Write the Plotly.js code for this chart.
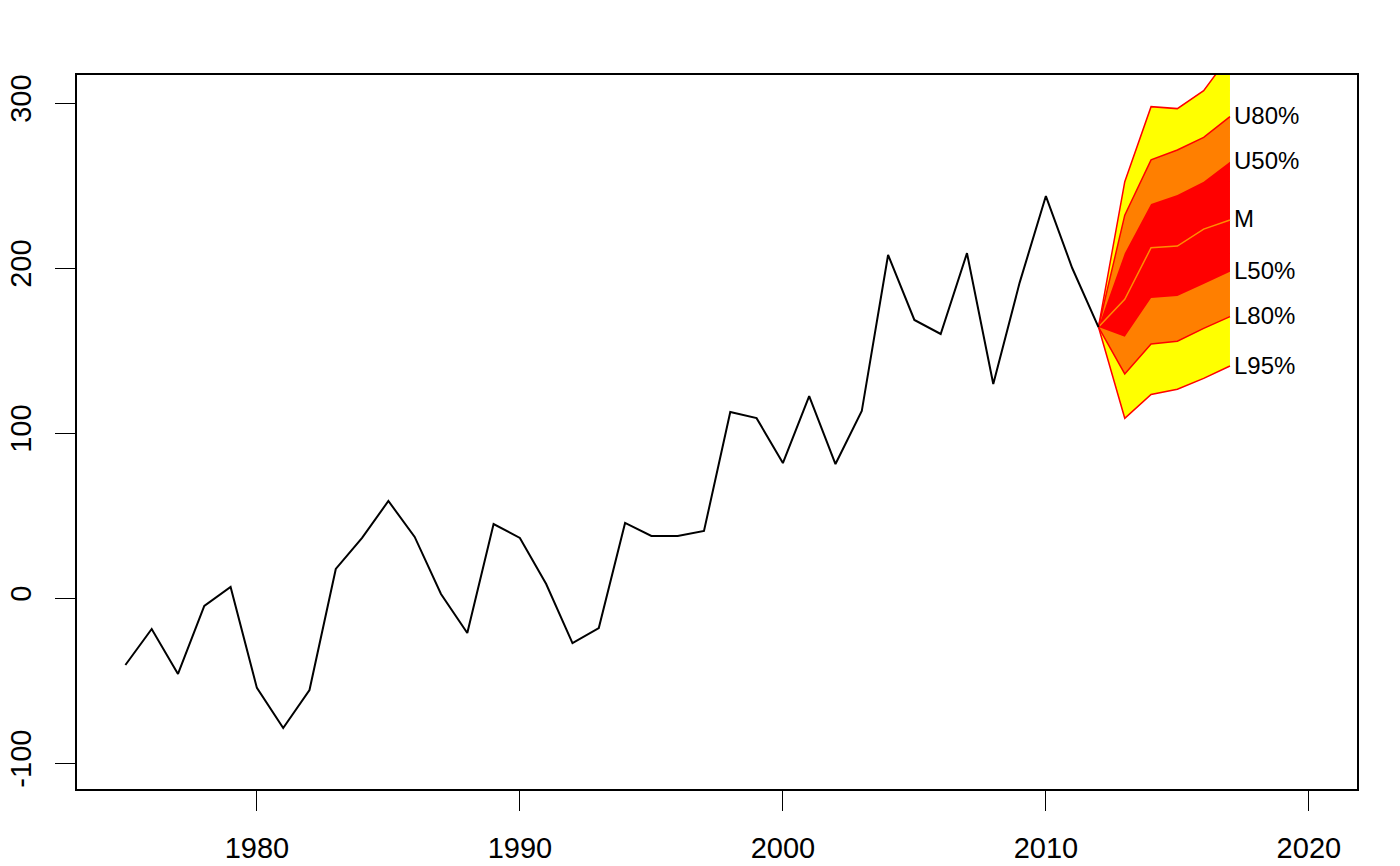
<!DOCTYPE html>
<html>
<head>
<meta charset="utf-8">
<script src="https://cdn.plot.ly/plotly-3.0.1.min.js"></script>
<style>
html,body{margin:0;padding:0;background:#fff;}
#chart{width:1400px;height:866px;}
</style>
</head>
<body>
<div id="chart"></div>
<script>
// Observed series
var years = [1975,1976,1977,1978,1979,1980,1981,1982,1983,1984,1985,1986,1987,1988,1989,1990,1991,1992,1993,1994,1995,1996,1997,1998,1999,2000,2001,2002,2003,2004,2005,2006,2007,2008,2009,2010,2011,2012];
var values = [-40.6,-18.8,-46,-4.8,6.7,-54.5,-78.8,-55.8,17.6,36.4,58.8,37,2.4,-21.2,44.8,36.4,8.5,-27.3,-18.2,45.5,37.6,37.6,40.6,112.7,109,81.8,122.4,81.2,113.3,207.9,168.5,160,209,129.7,191,243.6,200,164.2];

// Forecast fan (starts at last observation)
var fyears = [2012,2013,2014,2015,2016,2017];
var U95 = [164.2,252.3,297.8,296.6,307.5,329];
var U80 = [164.2,232,265.5,271.5,279.2,291.7];
var U50 = [164.2,208.9,238.8,244.2,252.3,264.4];
var M   = [164.2,181,212.3,213.3,223.6,229.1];
var L50 = [164.2,158.4,181.8,183,190.3,197.8];
var L80 = [164.2,135.8,153.9,155.6,163.4,170.5];
var L95 = [164.2,108.9,123.4,126.5,133.1,140.6];

var fanLabels = ["U80%","U50%","M","L50%","L80%","L95%"];
var fanLabelSeries = [U80,U50,M,L50,L80,L95];

var xTicks = [1980,1990,2000,2010,2020];
var yTicks = [-100,0,100,200,300];

function band(lower, upper, color) {
  var xs = fyears.concat(fyears.slice().reverse());
  var ys = lower.concat(upper.slice().reverse());
  return {x: xs, y: ys, type: 'scatter', mode: 'lines', fill: 'toself',
          fillcolor: color, line: {width: 0, color: color}, hoverinfo: 'skip', showlegend: false};
}
function line(arr, color, w) {
  return {x: fyears, y: arr, type: 'scatter', mode: 'lines',
          line: {color: color, width: w}, showlegend: false, hoverinfo: 'skip'};
}

var traces = [
  band(L95, U95, '#FFFF00'),
  band(L80, U80, '#FF7F00'),
  band(L50, U50, '#FF0000'),
  line(M, '#FF8C00', 1.5),
  line(U95, '#FF0000', 1.5),
  line(U80, '#FF0000', 1.5),
  line(L80, '#FF0000', 1.5),
  line(L95, '#FF0000', 1.5),
  {x: years, y: values, type: 'scatter', mode: 'lines', line: {color: '#000', width: 2}, showlegend: false}
];

var annotations = fanLabels.map(function(t, i) {
  var s = fanLabelSeries[i];
  return {x: fyears[fyears.length-1], y: s[s.length-1], text: t, showarrow: false,
          xanchor: 'left', yanchor: 'middle', xshift: 2, yshift: 1,
          font: {family: 'Liberation Sans, Arial, sans-serif', size: 24, color: '#000'}};
});

var font = {family: 'Liberation Sans, Arial, sans-serif', size: 29, color: '#000'};

var layout = {
  width: 1400, height: 866,
  margin: {l: 77, r: 43, t: 75, b: 77, pad: 0},
  paper_bgcolor: '#fff', plot_bgcolor: '#fff',
  showlegend: false,
  font: font,
  xaxis: {
    range: [1973.16, 2021.83], tickvals: xTicks, ticktext: xTicks.map(String),
    ticks: 'outside', ticklen: 20, tickwidth: 1, tickcolor: '#000',
    showgrid: false, zeroline: false, showline: true, mirror: true,
    linecolor: '#000', linewidth: 2, tickfont: {family: font.family, size: 29, color: '#000'},
    ticklabelstandoff: 12
  },
  yaxis: {
    range: [-115.76, 316.97], tickvals: yTicks, ticktext: yTicks.map(String),
    ticks: 'outside', ticklen: 20, tickwidth: 1, tickcolor: '#000', tickangle: -90,
    showgrid: false, zeroline: false, showline: true, mirror: true,
    linecolor: '#000', linewidth: 2, tickfont: {family: font.family, size: 29, color: '#000'},
    ticklabelstandoff: 12
  },
  annotations: annotations
};

Plotly.newPlot('chart', traces, layout, {displayModeBar: false, staticPlot: true});
</script>
</body>
</html>
